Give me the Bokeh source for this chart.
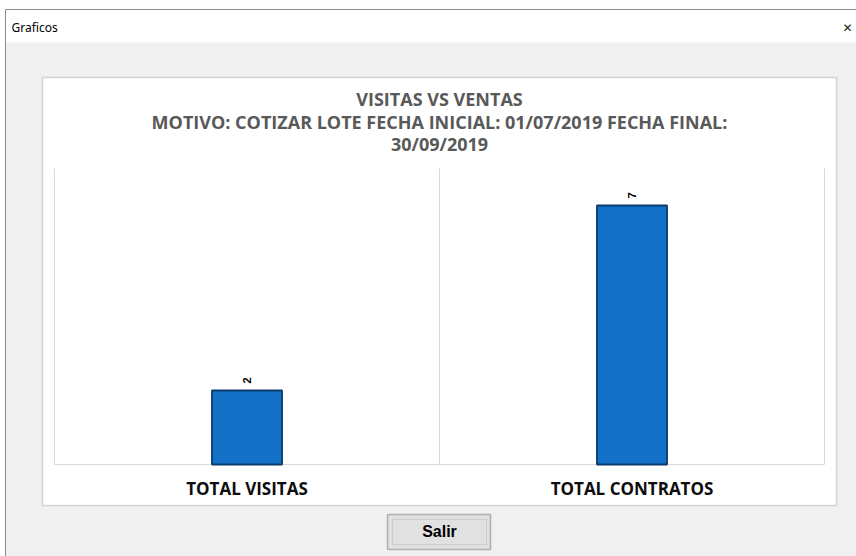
from bokeh.plotting import figure
from bokeh.models import (Range1d, ColumnDataSource, LabelSet, Label, BoxAnnotation)
from bokeh.core.properties import value
from bokeh.embed import file_html
from bokeh.resources import INLINE
import math

# ---- data ----
categories = ["TOTAL VISITAS", "TOTAL CONTRATOS"]
values = [2, 7]
value_labels = ["2", "7"]
title_lines = ["VISITAS VS VENTAS",
               "MOTIVO: COTIZAR LOTE FECHA INICIAL: 01/07/2019 FECHA FINAL:",
               "30/09/2019"]
window_title = "Graficos"
button_text = "Salir"

# ---- layout (figure pixels) ----
W, H = 856, 556
PL, PR, PT, PB = 54, 824, 168, 464   # plot area edges
YMAX = 8
n = len(categories)
xpx = (PR - PL) / n          # pixels per category
ypx = (PB - PT) / YMAX       # pixels per unit

p = figure(width=W, height=H, output_backend="svg", toolbar_location=None,
           x_range=Range1d(-PL / xpx, (W - PL) / xpx),
           y_range=Range1d(-(H - PB) / ypx, PB / ypx),
           x_axis_location=None, y_axis_location=None,
           min_border=0)
p.border_fill_color = "white"
p.background_fill_color = "white"
p.outline_line_color = None
p.xgrid.visible = False
p.ygrid.visible = False

def sy(py):          # figure pixel row -> screen units (from bottom)
    return H - py

def box(l, r, t, b, **kw):
    return BoxAnnotation(left=l, right=r, top=sy(t), bottom=sy(b),
                         left_units="screen", right_units="screen",
                         top_units="screen", bottom_units="screen", **kw)

# dialog body and title bar
p.add_layout(box(5, W + 5, 42, H + 5, fill_color="#f0f0f0", fill_alpha=1,
                 line_color=None, level="image"))
p.add_layout(box(5, W + 5, 8.5, 9.5, fill_color="#8c8c8c", fill_alpha=1,
                 line_color=None, level="image"))
p.add_layout(box(4.5, 5.5, 9, H + 5, fill_color="#8c8c8c", fill_alpha=1,
                 line_color=None, level="image"))
p.add_layout(Label(x=11, y=sy(27), x_units="screen", y_units="screen", text=window_title,
                   text_font="Noto Sans", text_font_size="12px", text_color="black",
                   text_baseline="middle"))
p.add_layout(Label(x=847, y=sy(27), x_units="screen", y_units="screen", text="\u2715",
                   text_font="DejaVu Sans", text_font_size="12px", text_color="#222222",
                   text_align="center", text_baseline="middle"))

# chart box
p.add_layout(box(42, 836, 77, 505, fill_color="white", fill_alpha=1,
                 line_color="#7f7f7f", line_width=1.5, level="image"))

# title lines
for t, yy in zip(title_lines, [98, 121, 143]):
    p.add_layout(Label(x=439, y=sy(yy), x_units="screen", y_units="screen", text=t,
                       text_font="Open Sans", text_font_style="bold",
                       text_font_size="18px", text_color="#595959",
                       text_align="center", text_baseline="middle"))

# plot area lines: category separators and base line
xs = [i + 0.5 for i in range(n)]
bounds = list(range(n + 1))
p.segment(x0=bounds, x1=bounds, y0=[0] * (n + 1), y1=[YMAX] * (n + 1),
          line_color="#d9d9d9", line_width=1)
p.segment(x0=[0], x1=[n], y0=[0], y1=[0], line_color="#d9d9d9", line_width=1.2)

src = ColumnDataSource(dict(x=xs, top=values, lab=value_labels, cat=categories))
p.vbar(x="x", top="top", width=0.182, source=src, fill_color="#1372c8",
       line_color="#0a3d6b", line_width=1.8)

p.add_layout(LabelSet(x="x", y="top", text="lab", source=src, angle=math.pi / 2,
                      y_offset=7, text_align="left", text_baseline="middle",
                      text_font=value("Liberation Sans"), text_font_style="bold",
                      text_font_size="11px", text_color="black"))

# category labels
p.add_layout(LabelSet(x="x", y=0, text="cat", source=src, y_offset=-24,
                      text_align="center", text_baseline="middle",
                      text_font=value("Open Sans"), text_font_style="bold",
                      text_font_size="17px", text_color="#0d0d0d"))

# button
p.add_layout(box(387, 490, 514, 549, fill_color="#e1e1e1", fill_alpha=1,
                 line_color="#2b2b2b", line_width=1.5))
p.add_layout(box(392, 486, 519, 544, fill_alpha=0, line_color="#555555",
                 line_width=1, line_dash="1 1"))
p.add_layout(Label(x=439, y=sy(531), x_units="screen", y_units="screen", text=button_text,
                   text_font="Liberation Sans", text_font_style="bold",
                   text_font_size="16px", text_color="black",
                   text_align="center", text_baseline="middle"))

open("out.html", "w").write(file_html(p, INLINE))
